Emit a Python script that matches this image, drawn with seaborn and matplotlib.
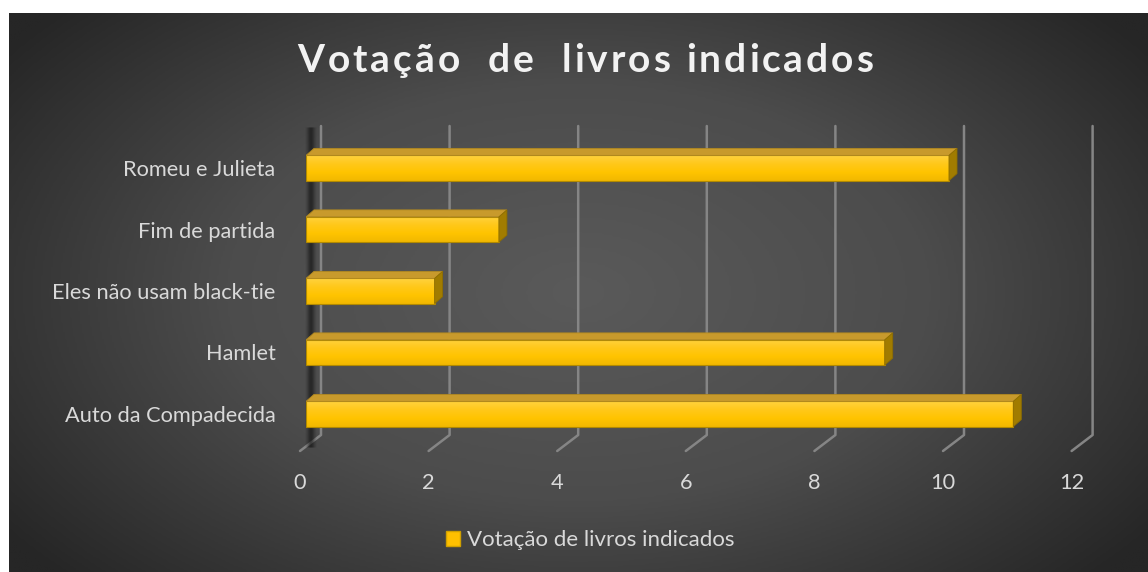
import numpy as np
import pandas as pd
import matplotlib.pyplot as plt
import matplotlib.transforms as mtransforms
from matplotlib.patches import Polygon, Patch
from matplotlib.colors import LinearSegmentedColormap
import seaborn as sns

# Dados
livros = ["Romeu e Julieta", "Fim de partida", "Eles não usam black-tie", "Hamlet", "Auto da Compadecida"]
votos = [10, 3, 2, 9, 11]
ticks_x = [0, 2, 4, 6, 8, 10, 12]
titulo = "Votação  de  livros indicados"
serie = "Votação de livros indicados"

df = pd.DataFrame({"livro": livros, "votos": votos})

sns.set_theme(style="dark")
plt.rcParams["font.family"] = ["Lato", "DejaVu Sans"]

W, H = 1148, 572
fig = plt.figure(figsize=(W / 100, H / 100), dpi=100)
fig.patch.set_facecolor("white")

# Fundo com gradiente radial
bg = fig.add_axes([9 / W, 0, 1 - 9 / W, 1 - 13 / H])
bg.set_axis_off()
yy, xx = np.mgrid[0:1:300j, 0:1:600j]
r = np.sqrt(((xx - 0.5) / 0.62) ** 2 + ((yy - 0.5) / 0.75) ** 2)
r = np.clip(r, 0, 1)
cmap_bg = LinearSegmentedColormap.from_list("bg", ["#5a5a5a", "#4c4c4c", "#262626"])
bg.imshow(r, cmap=cmap_bg, aspect="auto", vmin=0, vmax=1, interpolation="bilinear")

# Eixo principal
ax_l, ax_r = 306, 306 + 12 * 64.3
ax_t, ax_b = 137.25, 444.75
ax = fig.add_axes([ax_l / W, 1 - ax_b / H, (ax_r - ax_l) / W, (ax_b - ax_t) / H])
ax.set_facecolor("none")

sns.barplot(data=df, x="votos", y="livro", orient="h", color="#ffc000",
            width=0.41, ax=ax, zorder=4, saturation=1)
ax.set_xlim(0, 12)
ax.set_ylim(4.5, -0.5)

ppu_x = (ax_r - ax_l) / 12
ppu_y = (ax_b - ax_t) / 5
dx = 8 / ppu_x
dy = 7 / ppu_y

def frac(py):
    return (ax_b - py) / (ax_b - ax_t)

blend = mtransforms.blended_transform_factory(ax.transData, ax.transAxes)

# Linhas de grade (parede do fundo + piso)
for v in ticks_x:
    ax.plot([v + 15 / ppu_x, v + 15 / ppu_x, v - 6 / ppu_x],
            [frac(126), frac(435), frac(451)], transform=blend,
            color="#858585", lw=1.8, clip_on=False, zorder=1)

# Sombra da parede lateral
perfil = [0.05, 0.12, 0.22, 0.35, 0.45, 0.5, 0.45, 0.35, 0.22, 0.12, 0.05]
for i, a in enumerate(perfil):
    px = 306 + i
    ax.plot([(px - ax_l) / ppu_x] * 2, [frac(128), frac(447)], transform=blend,
            color="#101010", lw=1.1, alpha=a, clip_on=False, zorder=2)

# Barras 3D
cmap_bar = LinearSegmentedColormap.from_list("bar", ["#ffd23f", "#ffc81a", "#ffc400", "#f2b800"])
grad = np.linspace(0, 1, 64).reshape(-1, 1)
for p in list(ax.patches):
    x0, y0, w, h = p.get_x(), p.get_y(), p.get_width(), p.get_height()
    im = ax.imshow(grad, cmap=cmap_bar, extent=[x0, x0 + w, y0 + h, y0],
                   origin="upper", aspect="auto", zorder=4, interpolation="bilinear")
    im.set_clip_path(p)
    p.set_facecolor("none")
    p.set_edgecolor("#b28a00")
    p.set_linewidth(0.8)
    p.set_zorder(5)
    topo = Polygon([(x0, y0), (x0 + dx, y0 - dy), (x0 + w + dx, y0 - dy), (x0 + w, y0)],
                   closed=True, facecolor="#c89a2c", edgecolor="#b08820", lw=0.6, zorder=5)
    lado = Polygon([(x0 + w, y0), (x0 + w + dx, y0 - dy), (x0 + w + dx, y0 + h - dy), (x0 + w, y0 + h)],
                   closed=True, facecolor="#a17c00", edgecolor="#8f6e00", lw=0.6, zorder=5)
    ax.add_patch(topo)
    ax.add_patch(lado)

ax.set_xlim(0, 12)
ax.set_ylim(4.5, -0.5)

# Eixos e rótulos
ax.set_xticks(ticks_x)
ax.set_xticklabels([str(t) for t in ticks_x])
ax.tick_params(axis="x", length=0, pad=20, labelsize=15.7, labelcolor="#d9d9d9")
ax.tick_params(axis="y", length=0, pad=22, labelsize=15.7, labelcolor="#d9d9d9")
for lab in ax.get_xticklabels():
    lab.set_transform(lab.get_transform() + mtransforms.ScaledTranslation(-6 / 100, 0, fig.dpi_scale_trans))
ax.set_xlabel("")
ax.set_ylabel("")
ax.grid(False)
for s in ax.spines.values():
    s.set_visible(False)

# Título com espaçamento entre letras
renderer = fig.canvas.get_renderer()
tkw = dict(fontsize=28, fontweight="bold", color="#f2f2f2", va="center", ha="left")
esp = 3.0

def largura(s):
    t = fig.text(0, 0, s + "l", **tkw)
    t2 = fig.text(0, 0, "l", **tkw)
    wd = t.get_window_extent(renderer).width - t2.get_window_extent(renderer).width
    t.remove()
    t2.remove()
    return wd

total = largura(titulo) + esp * (len(titulo) - 1)
x_ini = 585.5 - total / 2
for i, ch in enumerate(titulo):
    if ch == " ":
        continue
    xp = x_ini + largura(titulo[:i]) + esp * i
    fig.text(xp / W, 1 - 60 / H, ch, **tkw)

# Legenda
fig.legend(handles=[Patch(facecolor="#ffc000", edgecolor="#d0a000", label=serie)],
           loc="center", bbox_to_anchor=(590 / W, 1 - 540 / H), frameon=False,
           fontsize=16, labelcolor="#d9d9d9", handlelength=0.65, handleheight=0.65,
           handletextpad=0.3)

fig.savefig("out.png", dpi=100)
